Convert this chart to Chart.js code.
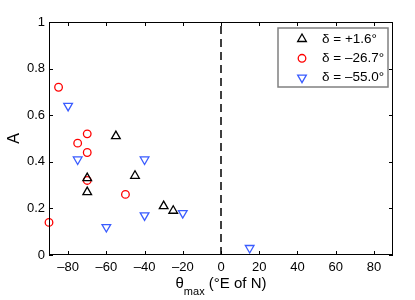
<!DOCTYPE html>
<html>
<head>
<meta charset="utf-8">
<script src="https://cdn.jsdelivr.net/npm/chart.js@4"></script>
<style>
  html, body { margin: 0; padding: 0; background: #fff; }
  #wrap { width: 415px; height: 300px; }
</style>
</head>
<body>
<div id="wrap"><canvas id="myChart" width="415" height="300"></canvas></div>
<script>
// values
var blackX = [-70, -70, -55, -45, -30, -25];
var blackY = [0.33, 0.27, 0.51, 0.34, 0.21, 0.19];
var redX = [-85, -75, -70, -70, -70, -50, -90];
var redY = [0.72, 0.48, 0.52, 0.44, 0.32, 0.26, 0.14];
var blueX = [-80, -75, -40, -60, -40, -20, 15];
var blueY = [0.64, 0.41, 0.41, 0.12, 0.17, 0.18, 0.03];
var xTicks = [-80, -60, -40, -20, 0, 20, 40, 60, 80];
var yTicks = [0, 0.2, 0.4, 0.6, 0.8, 1];
var legendLabels = ['\u03b4 = +1.6\u00b0', '\u03b4 = \u201326.7\u00b0', '\u03b4 = \u201355.0\u00b0'];

var FONT = '"Liberation Sans", Arial, sans-serif';
var BLUE = '#3a5cff';

function pts(xs, ys) {
    return xs.map(function (x, i) { return {x: x, y: ys[i]}; });
}

// box, inward ticks, x title with subscript, legend
var frame = {
    id: 'frame',
    afterDraw: function (chart) {
        var ctx = chart.ctx, a = chart.chartArea;
        var sx = chart.scales.x, sy = chart.scales.y;
        ctx.save();
        ctx.strokeStyle = '#000';
        ctx.lineWidth = 1;
        ctx.strokeRect(a.left + 0.5, a.top + 0.5, a.right - a.left - 1, a.bottom - a.top - 1);
        ctx.beginPath();
        xTicks.forEach(function (v) {
            var p = Math.round(sx.getPixelForValue(v)) + 0.5;
            ctx.moveTo(p, a.bottom); ctx.lineTo(p, a.bottom - 4);
            ctx.moveTo(p, a.top); ctx.lineTo(p, a.top + 4);
        });
        yTicks.forEach(function (v) {
            var p = Math.round(sy.getPixelForValue(v)) + 0.5;
            ctx.moveTo(a.left, p); ctx.lineTo(a.left + 4, p);
            ctx.moveTo(a.right, p); ctx.lineTo(a.right - 4, p);
        });
        ctx.stroke();

        // x title: theta_max (°E of N)
        ctx.fillStyle = '#000';
        ctx.textBaseline = 'alphabetic';
        ctx.textAlign = 'left';
        var big = '15px ' + FONT, small = '11px ' + FONT;
        ctx.font = big;
        var w1 = ctx.measureText('\u03b8').width;
        var w3 = ctx.measureText(' (\u00b0E of N)').width;
        ctx.font = small;
        var w2 = ctx.measureText('max').width;
        var cx = (a.left + a.right) / 2;
        var x0 = cx - (w1 + w2 + w3) / 2;
        ctx.font = big;
        ctx.fillText('\u03b8', x0, 288);
        ctx.font = small;
        ctx.fillText('max', x0 + w1, 295);
        ctx.font = big;
        ctx.fillText(' (\u00b0E of N)', x0 + w1 + w2, 288);

        // legend
        var lx = 278, ly = 28, lw = 110, lh = 59;
        ctx.fillStyle = '#fff';
        ctx.fillRect(lx, ly, lw, lh);
        ctx.strokeStyle = '#808080';
        ctx.lineWidth = 1.5;
        ctx.strokeRect(lx, ly, lw, lh);
        var ds = chart.data.datasets;
        ctx.font = '13.5px ' + FONT;
        ctx.textBaseline = 'middle';
        for (var i = 0; i < 3; i++) {
            var yy = 39 + i * 19.3;
            ctx.fillStyle = 'rgba(0,0,0,0)';
            ctx.strokeStyle = ds[i].borderColor;
            ctx.lineWidth = ds[i].pointBorderWidth;
            Chart.helpers.drawPoint(ctx, {
                pointStyle: ds[i].pointStyle,
                radius: ds[i].pointRadius,
                rotation: ds[i].rotation || 0,
                borderWidth: ds[i].pointBorderWidth
            }, 302, yy);
            ctx.fillStyle = '#000';
            ctx.fillText(legendLabels[i], 322, yy);
        }
        ctx.restore();
    }
};

var ctx = document.getElementById('myChart').getContext('2d');
var myChart = new Chart(ctx, {
    type: 'scatter',
    data: {
        datasets: [{
            label: legendLabels[0],
            data: pts(blackX, blackY),
            pointStyle: 'triangle',
            pointRadius: 5,
            pointBorderWidth: 1.3,
            borderColor: '#000',
            backgroundColor: 'rgba(0,0,0,0)',
            clip: false
        }, {
            label: legendLabels[1],
            data: pts(redX, redY),
            pointStyle: 'circle',
            pointRadius: 3.8,
            pointBorderWidth: 1.3,
            borderColor: '#ff0000',
            backgroundColor: 'rgba(0,0,0,0)',
            clip: false
        }, {
            label: legendLabels[2],
            data: pts(blueX, blueY),
            pointStyle: 'triangle',
            rotation: 180,
            pointRadius: 5,
            pointBorderWidth: 1.3,
            borderColor: BLUE,
            backgroundColor: 'rgba(0,0,0,0)',
            clip: false
        }, {
            type: 'line',
            label: 'zero',
            data: [{x: 0, y: 0}, {x: 0, y: 1}],
            borderColor: '#000',
            borderWidth: 1.5,
            borderDash: [8, 5],
            pointRadius: 0,
            fill: false
        }]
    },
    options: {
        responsive: false,
        animation: false,
        layout: { padding: { left: 0, top: 22, right: 22, bottom: 0 } },
        plugins: {
            legend: { display: false },
            tooltip: { enabled: false }
        },
        scales: {
            x: {
                type: 'linear',
                min: -90,
                max: 90,
                grid: { display: false, drawTicks: false },
                border: { display: false },
                afterBuildTicks: function (s) { s.ticks = xTicks.map(function (v) { return {value: v}; }); },
                afterFit: function (s) { s.height = 45; },
                ticks: {
                    padding: 5,
                    color: '#000',
                    font: { family: FONT, size: 13 },
                    maxRotation: 0,
                    autoSkip: false,
                    callback: function (v) { return String(v).replace('-', '\u2013'); }
                }
            },
            y: {
                type: 'linear',
                min: 0,
                max: 1,
                grid: { display: false, drawTicks: false },
                border: { display: false },
                afterBuildTicks: function (s) { s.ticks = yTicks.map(function (v) { return {value: v}; }); },
                afterFit: function (s) { s.width = 49; },
                title: {
                    display: true,
                    text: 'A',
                    color: '#000',
                    font: { family: FONT, size: 16 },
                    padding: { top: 5, bottom: 0 }
                },
                ticks: {
                    padding: 4,
                    color: '#000',
                    font: { family: FONT, size: 13 },
                    callback: function (v) { return String(v); }
                }
            }
        }
    },
    plugins: [frame]
});
</script>
</body>
</html>
